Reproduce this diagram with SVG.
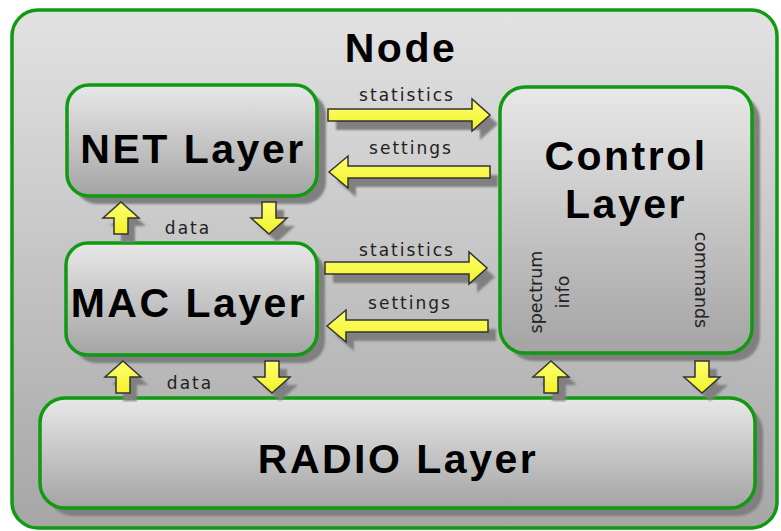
<svg xmlns="http://www.w3.org/2000/svg" width="781" height="531" viewBox="0 0 781 531">
  <defs>
    <linearGradient id="gOuter" x1="0" y1="0" x2="0" y2="1">
      <stop offset="0" stop-color="#e2e2e2"/>
      <stop offset="1" stop-color="#a6a6a6"/>
    </linearGradient>
    <linearGradient id="gBox" x1="0" y1="0" x2="0" y2="1">
      <stop offset="0" stop-color="#e8e8e8"/>
      <stop offset="1" stop-color="#a4a4a4"/>
    </linearGradient>
    <linearGradient id="gArrow" x1="0" y1="0" x2="0" y2="1">
      <stop offset="0" stop-color="#ffff70"/>
      <stop offset="1" stop-color="#f2f228"/>
    </linearGradient>
    <filter id="soft" x="-10%" y="-10%" width="120%" height="120%">
      <feGaussianBlur stdDeviation="0.8"/>
    </filter>
    <!-- arrow outlines: right, left, up, down -->
    <path id="aRight" d="M0,-6 L144,-6 L144,-16 L162,0 L144,16 L144,6 L0,6 Z"/>
    <path id="aLeft" d="M0,0 L19,-16 L19,-6 L161,-6 L161,6 L19,6 L19,16 Z"/>
    <path id="aUp" d="M0,0 L18,16 L7,16 L7,32 L-7,32 L-7,16 L-18,16 Z"/>
    <path id="aDown" d="M0,32 L18,16 L7,16 L7,0 L-7,0 L-7,16 L-18,16 Z"/>
  </defs>
  <style>
    .outer { fill: url(#gOuter); stroke: #119911; stroke-width: 3.5; }
    .box { fill: url(#gBox); stroke: #119911; stroke-width: 3.5; }
    .shadow { fill: #808080; filter: url(#soft); }
    .arrow { fill: url(#gArrow); stroke: #333333; stroke-width: 1.5; stroke-linejoin: miter; }
    .big { font-family: "Liberation Sans", Arial, sans-serif; font-weight: bold; font-size: 41px; letter-spacing: 2.5px; fill: #000; text-anchor: middle; }
    .small { font-family: "DejaVu Sans", sans-serif; font-size: 17px; letter-spacing: 2px; fill: #222; text-anchor: middle; }
    .side { font-family: "DejaVu Sans", sans-serif; font-size: 17.5px; fill: #222; text-anchor: middle; }
  </style>

  <!-- enclosing node -->
  <g id="node">
    <rect class="outer" x="12" y="10" width="765" height="518" rx="26" ry="26"/>
    <text class="big" x="401" y="62">Node</text>
  </g>

  <!-- layer boxes -->
  <g id="net-layer">
    <rect class="shadow" x="75" y="93" width="251" height="111" rx="22"/>
    <rect class="box" x="67" y="85" width="250" height="111" rx="22"/>
    <text class="big" x="193" y="163">NET Layer</text>
  </g>
  <g id="mac-layer">
    <rect class="shadow" x="74" y="251" width="251" height="112" rx="22"/>
    <rect class="box" x="66" y="243" width="251" height="112" rx="22"/>
    <text class="big" x="189" y="317">MAC Layer</text>
  </g>
  <g id="control-layer">
    <rect class="shadow" x="508" y="95" width="252" height="266" rx="25"/>
    <rect class="box" x="500" y="87" width="252" height="266" rx="25"/>
    <text class="big" x="626" y="170">Control</text>
    <text class="big" x="626" y="218">Layer</text>
    <text class="side" transform="translate(542,292) rotate(-90)">spectrum</text>
    <text class="side" transform="translate(569,292) rotate(-90)">info</text>
    <text class="side" transform="translate(695,280) rotate(90)">commands</text>
  </g>
  <g id="radio-layer">
    <rect class="shadow" x="48" y="406" width="715" height="110" rx="25"/>
    <rect class="box" x="40" y="398" width="715" height="110" rx="25"/>
    <text class="big" x="398" y="473">RADIO Layer</text>
  </g>

  <!-- connectors -->
  <g id="connectors">
    <!-- NET <-> Control -->
    <use href="#aRight" class="shadow" transform="translate(336,124)"/>
    <use href="#aRight" class="arrow" transform="translate(328,115)"/>
    <text class="small" x="407" y="101">statistics</text>
    <use href="#aLeft" class="shadow" transform="translate(337,181)"/>
    <use href="#aLeft" class="arrow" transform="translate(329,172)"/>
    <text class="small" x="411" y="154">settings</text>

    <!-- MAC <-> Control -->
    <use href="#aRight" class="shadow" transform="translate(333,277)"/>
    <use href="#aRight" class="arrow" transform="translate(325,268)"/>
    <text class="small" x="407" y="256">statistics</text>
    <use href="#aLeft" class="shadow" transform="translate(335,335)"/>
    <use href="#aLeft" class="arrow" transform="translate(327,326)"/>
    <text class="small" x="410" y="309">settings</text>

    <!-- NET <-> MAC -->
    <use href="#aUp" class="shadow" transform="translate(128,210)"/>
    <use href="#aUp" class="arrow" transform="translate(121,202)"/>
    <use href="#aDown" class="shadow" transform="translate(277,210)"/>
    <use href="#aDown" class="arrow" transform="translate(269,202)"/>
    <text class="small" x="188" y="234">data</text>

    <!-- MAC <-> RADIO -->
    <use href="#aUp" class="shadow" transform="translate(130,369)"/>
    <use href="#aUp" class="arrow" transform="translate(123,361)"/>
    <use href="#aDown" class="shadow" transform="translate(280,369)"/>
    <use href="#aDown" class="arrow" transform="translate(272,361)"/>
    <text class="small" x="190" y="389">data</text>

    <!-- Control <-> RADIO -->
    <use href="#aUp" class="shadow" transform="translate(559,369)"/>
    <use href="#aUp" class="arrow" transform="translate(551,361)"/>
    <use href="#aDown" class="shadow" transform="translate(710,369)"/>
    <use href="#aDown" class="arrow" transform="translate(702,361)"/>
  </g>
</svg>
